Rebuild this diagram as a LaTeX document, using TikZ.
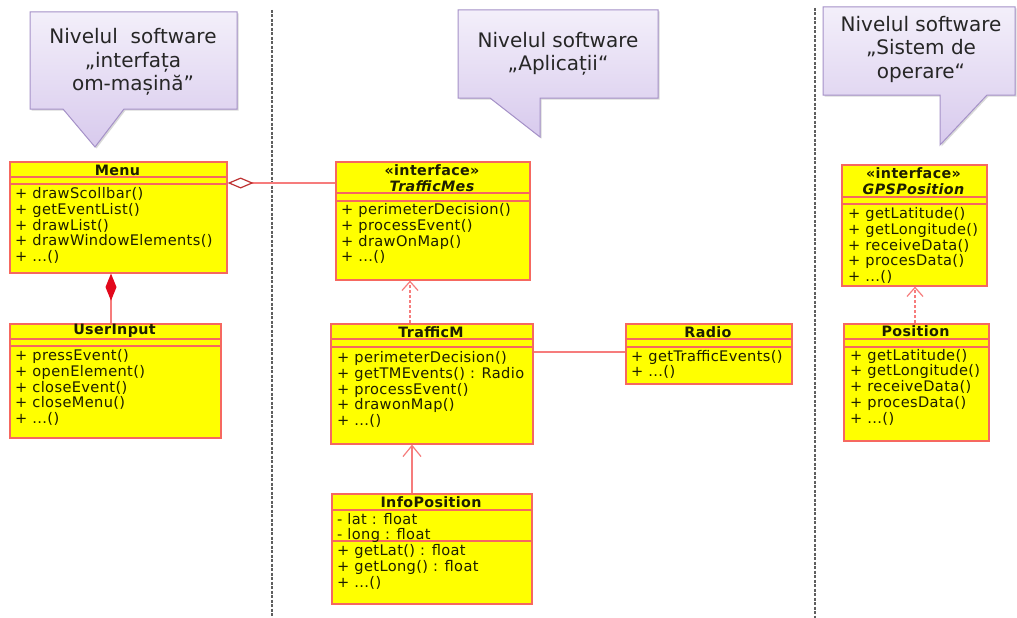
\documentclass[tikz,border=0pt]{standalone}
\usepackage{fontspec}
\setmainfont{DejaVu Sans}
\newfontfamily\umlfont[LetterSpace=2.5]{DejaVu Sans}
\usetikzlibrary{arrows.meta,shadows,calc}

\definecolor{umlyellow}{RGB}{255,255,0}
\definecolor{umlborder}{RGB}{246,104,96}
\definecolor{linkred}{RGB}{246,124,124}
\definecolor{compred}{RGB}{226,8,28}
\definecolor{aggred}{RGB}{190,50,50}
\definecolor{calloutedge}{RGB}{165,145,200}
\definecolor{callouttop}{RGB}{243,239,250}
\definecolor{calloutbot}{RGB}{216,202,237}
\definecolor{divider}{RGB}{95,95,95}
\definecolor{umltext}{RGB}{30,30,0}

\tikzset{
  cls/.style={draw=umlborder, fill=umlyellow, line width=1.6pt, inner sep=0pt, anchor=north west},
  sep/.style={draw=umlborder, line width=1.2pt},
  cname/.style={font=\umlfont\bfseries\fontsize{14.3}{16}\selectfont, text=umltext, inner sep=0pt, align=center},
  ops/.style={font=\umlfont\fontsize{14.6}{15.7}\selectfont, text=umltext, align=left, inner sep=0pt, anchor=north west},
  link/.style={draw=linkred, line width=1.2pt},
  realize/.style={link, dash pattern=on 3pt off 2pt, -{Straight Barb[length=9pt,width=16pt,line width=1.2pt]}},
  navigate/.style={link, -{Straight Barb[length=11pt,width=18pt,line width=1.2pt]}},
  layerline/.style={draw=divider, line width=1.1pt, dash pattern=on 3pt off 1.5pt},
  callout/.style={draw=calloutedge, line width=1pt, top color=callouttop, bottom color=calloutbot,
    drop shadow={shadow xshift=1.5pt, shadow yshift=-1.5pt, opacity=0.3}},
  calltext/.style={font=\fontsize{20}{23.5}\selectfont, align=center, text=black!85, inner sep=0pt}
}

\begin{document}
\begin{tikzpicture}[x=1pt, y=-1pt]
  \fill[white] (0,0) rectangle (1017,618);
  \useasboundingbox (0,0) rectangle (1017,618);

  % layer separators
  \draw[layerline] (272,10) -- (272,618);
  \draw[layerline] (815,8) -- (815,618);

  % speech-bubble titles of the three software layers
  \path[callout] (30,12) -- (237,12) -- (237,109) -- (124,109) -- (95,147) -- (63,109) -- (30,109) -- cycle;
  \node[calltext] (c1text) at (133,62) {Nivelul\ \ software\\„interfața\\om-mașină”};

  \path[callout] (458,10) -- (658,10) -- (658,98) -- (540,98) -- (540,137) -- (490,98) -- (458,98) -- cycle;
  \node[calltext] (c2text) at (558,54) {Nivelul software\\„Aplicații“};

  \path[callout] (823,7) -- (1015,7) -- (1015,95) -- (987,95) -- (940,145) -- (940,95) -- (823,95) -- cycle;
  \node[calltext] (c3text) at (921,49) {Nivelul software\\„Sistem de\\operare“};

  % ---- Menu
  \node[cls, minimum width=217pt, minimum height=111pt] (menu) at (9,161) {};
  \draw[sep] (9,177) -- (226,177);
  \draw[sep] (9,184) -- (226,184);
  \node[cname] (menuname) at (117.5,170) {Menu};
  \node[ops] (menuops) at (15,187.5) {+ drawScollbar()\\+ getEventList()\\+ drawList()\\+ drawWindowElements()\\+ ...()};

  % ---- UserInput
  \node[cls, minimum width=211pt, minimum height=114pt] (userinput) at (9,323) {};
  \draw[sep] (9,339) -- (220,339);
  \draw[sep] (9,346) -- (220,346);
  \node[cname] (userinputname) at (114.5,331) {UserInput};
  \node[ops] (userinputops) at (15,349.5) {+ pressEvent()\\+ openElement()\\+ closeEvent()\\+ closeMenu()\\+ ...()};

  % ---- TrafficMes
  \node[cls, minimum width=194pt, minimum height=118pt] (trafficmes) at (335,161) {};
  \draw[sep] (335,193) -- (529,193);
  \draw[sep] (335,201) -- (529,201);
  \node[cname] (trafficmesname) at (432,178) {«interface»\\\itshape TrafficMes};
  \node[ops] (trafficmesops) at (341,203.5) {+ perimeterDecision()\\+ processEvent()\\+ drawOnMap()\\+ ...()};

  % ---- TrafficM
  \node[cls, minimum width=202pt, minimum height=120pt] (trafficm) at (330,323) {};
  \draw[sep] (330,339) -- (532,339);
  \draw[sep] (330,347) -- (532,347);
  \node[cname] (trafficmname) at (431,332) {TrafficM};
  \node[ops] (trafficmops) at (337,351.5) {+ perimeterDecision()\\+ getTMEvents() : Radio\\+ processEvent()\\+ drawonMap()\\+ ...()};

  % ---- Radio
  \node[cls, minimum width=166pt, minimum height=60pt] (radio) at (625,323) {};
  \draw[sep] (625,339) -- (791,339);
  \draw[sep] (625,347) -- (791,347);
  \node[cname] (radioname) at (708,332) {Radio};
  \node[ops] (radioops) at (631,350) {+ getTrafficEvents()\\+ ...()};

  % ---- InfoPosition
  \node[cls, minimum width=200pt, minimum height=110pt] (infoposition) at (331,493) {};
  \draw[sep] (331,510) -- (531,510);
  \draw[sep] (331,541) -- (531,541);
  \node[cname] (infopositionname) at (431,502) {InfoPosition};
  \node[ops] (infopositionattr) at (337,513) {- lat : float\\- long : float};
  \node[ops] (infopositionops) at (337,544.5) {+ getLat() : float\\+ getLong() : float\\+ ...()};

  % ---- GPSPosition
  \node[cls, minimum width=145pt, minimum height=121pt] (gpsposition) at (841,164) {};
  \draw[sep] (841,197) -- (986,197);
  \draw[sep] (841,204) -- (986,204);
  \node[cname] (gpspositionname) at (913.5,181) {«interface»\\\itshape GPSPosition};
  \node[ops] (gpspositionops) at (848,207.5) {+ getLatitude()\\+ getLongitude()\\+ receiveData()\\+ procesData()\\+ ...()};

  % ---- Position
  \node[cls, minimum width=145pt, minimum height=117pt] (position) at (843,323) {};
  \draw[sep] (843,339) -- (988,339);
  \draw[sep] (843,347) -- (988,347);
  \node[cname] (positionname) at (915.5,331) {Position};
  \node[ops] (positionops) at (850,349) {+ getLatitude()\\+ getLongitude()\\+ receiveData()\\+ procesData()\\+ ...()};

  % ---- relations
  \coordinate (agg) at ($(menu.north east)+(0,22)$);
  \draw[link, {Diamond[open, length=26pt, width=11pt, line width=1.2pt, color=aggred]}-]
    (agg) -- (agg -| trafficmes.west);

  \coordinate (cmp) at ($(menu.south west)+(102,0)$);
  \draw[link, {Diamond[length=27pt, width=11pt, color=compred, fill=compred]}-]
    (cmp) -- (cmp |- userinput.north);

  \coordinate (rz1) at ($(trafficm.north west)+(80,0)$);
  \draw[realize] (rz1) -- (rz1 |- trafficmes.south);

  \coordinate (tr) at ($(trafficm.north east)+(0,29)$);
  \draw[link] (tr) -- (tr -| radio.west);

  \coordinate (ip) at ($(infoposition.north west)+(81,0)$);
  \draw[navigate] (ip) -- (ip |- trafficm.south);

  \coordinate (ps) at ($(position.north west)+(72,0)$);
  \draw[realize] (ps) -- (ps |- gpsposition.south);
\end{tikzpicture}
\end{document}
